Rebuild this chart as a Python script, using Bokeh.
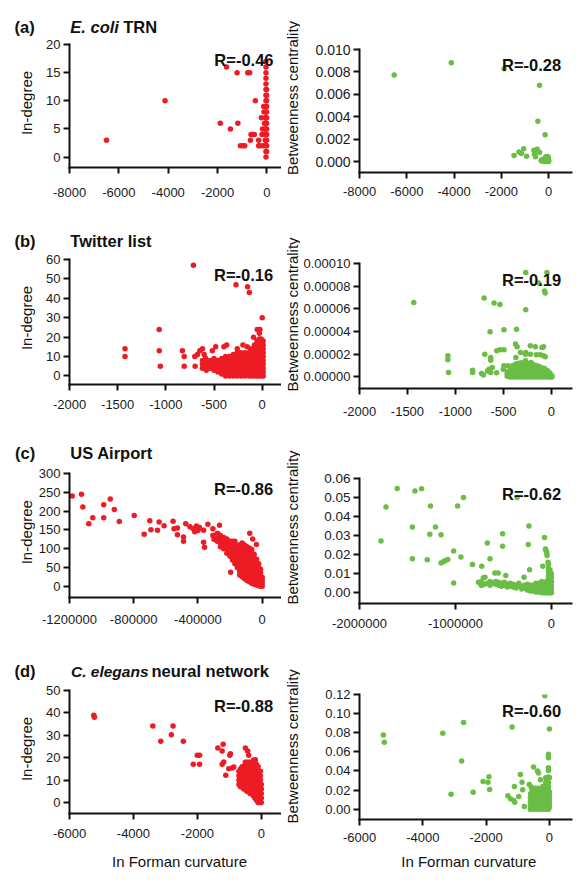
import math
from bokeh.plotting import figure
from bokeh.models import Range1d, FixedTicker, PrintfTickFormatter, Label
from bokeh.layouts import column, row
from bokeh.embed import file_html
from bokeh.resources import INLINE

RED = "#ED1C24"
GREEN = "#6ABD45"
FONT = "Liberation Sans"
INK = "#111111"

# ---------------- (a) E. coli TRN ----------------
ecoli_in_x = [-6500, -4130, -1890, -1640, -1480, -1210, -1180, -1076, -968, -901, -780, -700,
              -470, -672, -645, -565, -511, -336, -336, -229, -134, -180, -120, -100,
              -90, -70, -60, -150, -200, -260, -80]
ecoli_in_y = [3, 10, 6, 16, 5, 15, 6, 2, 2, 2, 15, 15,
              10, 3, 4, 4, 4, 3, 2, 7, 9, 5, 8, 6,
              4, 3, 7, 2, 4, 2, 5]
ecoli_in_col_x = [-40, -15]
ecoli_in_col_y = [[0, 1, 2, 3, 4, 5, 6, 7, 8, 9, 10, 11, 12, 13, 14, 15, 16, 17],
                  [1, 2, 3, 4, 5, 6, 7, 8, 9, 10, 11, 12]]

ecoli_bc_x = [-6533, -4118, -1885, -391, -460, -154, -1466, -1256, -1159, -1061, -935, -628,
              -600, -558, -489, -390, -321, -237, -181, -112, -42, 0, -300, -250, -200, -150,
              -120, -90, -70, -50, -30, -15, -60, -100, -20, -5]
ecoli_bc_y = [0.00772, 0.00881, 0.00828, 0.0068, 0.00359, 0.0024, 0.00053, 0.00086, 0.00071,
              0.00113, 0.00047, 0.0010, 0.00065, 0.00042, 0.0011, 0.00083, 0.00012, 0.00018,
              0.0, 0.00042, 0.00027, 0.0, 0.00005, 0.0001, 0.0002, 0.0003, 0.0001, 0.0004,
              0.0002, 0.0, 0.0003, 0.0001, 0.00045, 0.00025, 0.0004, 0.00015]

# ---------------- (b) Twitter list ----------------
twitter_in_x = [-1424, -1424, -1069, -1069, -1058, -828, -810, -810, -714, -700, -696, -672,
                -648, -620, -603, -587, -518, -483, -398, -369, -259, -272, -152, -134, 0,
                -52, -24, -200, -156, -122, -104, -90, -30]
twitter_in_y = [14, 10, 24, 13, 5, 13, 10, 5, 57, 10, 5, 11,
                13, 14, 11, 9, 13, 15, 15, 16, 14, 47, 46, 43, 30,
                24, 24, 16, 15, 13, 10, 20, 22]
twitter_in_col_x = [-620, -580, -540, -500, -460, -420, -380, -340, -300, -260, -220, -180,
                    -140, -110, -80, -55, -30, -10, 10]
twitter_in_col_y = [[4, 6, 8], [3, 5, 7], [4, 6, 8], [3, 5, 7, 9], [2, 4, 6, 8],
                    [1, 3, 5, 7, 9], [0, 2, 4, 6, 8, 10], [0, 2, 4, 6, 8, 10],
                    [0, 2, 4, 6, 8, 10, 11], [0, 2, 4, 6, 8, 10, 12], [0, 2, 4, 6, 8, 10, 12],
                    [0, 2, 4, 6, 8, 10, 12], [0, 2, 4, 6, 8, 10, 12],
                    [0, 2, 4, 6, 8, 10, 12, 14], [0, 2, 4, 6, 8, 10, 12, 14, 16],
                    [0, 2, 4, 6, 8, 10, 12, 14, 16, 18],
                    [0, 2, 4, 6, 8, 10, 12, 14, 16, 18, 19],
                    [0, 2, 4, 6, 8, 10, 12, 14, 16, 18, 19],
                    [0, 2, 4, 6, 8, 10, 12, 14, 16, 18]]

twitter_bc_x = [-1434, -1079, -1079, -1072, -821, -821, -728, -708, -701, -694, -666, -649,
                -632, -615, -639, -632, -632, -597, -570, -536, -570, -536, -494, -494, -494,
                -501, -374, -357, -363, -322, -271, -370, -267, -267, -46, -132, -64, -71,
                -219, -167, -98, -81, -267, -219, -157, -115, -81, -64, -452, -425, -322,
                -270, -212]
twitter_bc_y = [65.7e-6, 18.6e-6, 15.1e-6, 3.8e-6, 5.9e-6, 3.8e-6, 3.0e-6, 1.8e-6, 69.5e-6,
                20.1e-6, 5.3e-6, 6.8e-6, 3.8e-6, 8.3e-6, 39.9e-6, 17.2e-6, 14.8e-6, 65.1e-6,
                3.6e-6, 63.9e-6, 23.1e-6, 24.0e-6, 41.7e-6, 24.0e-6, 9.8e-6, 6.8e-6, 29.0e-6,
                26.6e-6, 42.0e-6, 21.6e-6, 20.1e-6, 17.2e-6, 59.2e-6, 92.0e-6, 92.0e-6,
                82.8e-6, 74.0e-6, 75.7e-6, 27.5e-6, 26.6e-6, 26.0e-6, 26.5e-6, 21.6e-6,
                20.1e-6, 19.5e-6, 19.5e-6, 18.6e-6, 17.7e-6, 9.8e-6, 5.3e-6, 8.9e-6, 14.2e-6,
                12.7e-6]
twitter_bc_col_x = [-460, -430, -400, -370, -340, -310, -280, -250, -220, -190, -160, -130,
                    -100, -70, -40, -15, 5]
twitter_bc_col_y = [[0.5e-6, 2.5e-6, 4.5e-6],
                    [0.0, 2e-6, 4e-6, 6e-6],
                    [0.0, 2e-6, 4e-6, 6e-6, 8e-6, 10e-6],
                    [0.0, 2e-6, 4e-6, 6e-6, 8e-6, 10e-6, 11.5e-6],
                    [0.0, 2e-6, 4e-6, 6e-6, 8e-6, 10e-6, 12e-6],
                    [0.0, 2e-6, 4e-6, 6e-6, 8e-6, 10e-6, 12.5e-6],
                    [0.0, 2e-6, 4e-6, 6e-6, 8e-6, 10e-6, 12e-6],
                    [0.0, 2e-6, 4e-6, 6e-6, 8e-6, 10e-6, 12e-6],
                    [0.0, 2e-6, 4e-6, 6e-6, 8e-6, 10e-6, 11.5e-6],
                    [0.0, 2e-6, 4e-6, 6e-6, 8e-6, 10e-6, 11e-6],
                    [0.0, 2e-6, 4e-6, 6e-6, 8e-6, 10e-6],
                    [0.0, 2e-6, 4e-6, 6e-6, 8e-6, 9.5e-6],
                    [0.0, 2e-6, 4e-6, 6e-6, 8e-6],
                    [0.0, 2e-6, 4e-6, 6e-6, 7.5e-6],
                    [0.0, 2e-6, 4e-6, 5.5e-6],
                    [0.0, 2e-6, 3.5e-6],
                    [0.0, 1e-6]]

# ---------------- (c) US Airport ----------------
airport_in_x = [-1183000, -1125600, -1117000, -1080000, -1055000, -987000, -987000, -946000,
                -921000, -890000, -797000, -735000, -700000, -693000, -652000, -642000,
                -611000, -555000, -549000, -528000, -528000, -490000, -490000, -476000,
                -450000, -430000, -420000, -410000, -400000, -390000, -365000, -338000,
                -365000, -359000, -307000, -307000, -276000, -266000, -197000, -77500,
                -59000, -36000]
airport_in_y = [240, 245, 211, 166, 182, 217, 182, 232, 204, 172, 188, 138, 174, 150, 149, 171,
                161, 173, 153, 155, 137, 120, 131, 166, 158, 153, 145, 160, 148, 156, 149, 165,
                117, 104, 153, 135, 140, 162, 37, 141, 126, 111]
airport_in_col_x = [-300000, -280000, -260000, -240000, -220000, -200000, -185000, -170000,
                    -155000, -140000, -125000, -110000, -95000, -80000, -65000, -50000,
                    -35000, -22000, -10000, 0]
airport_in_col_y = [[125, 135], [120, 132, 140], [105, 115, 125, 135], [100, 110, 120, 130],
                    [88, 98, 108, 118, 126], [80, 90, 100, 110, 120],
                    [70, 80, 90, 100, 110, 120], [60, 70, 80, 90, 100, 110, 120],
                    [50, 60, 70, 80, 90, 100, 110], [30, 40, 50, 60, 70, 80, 90, 100, 110],
                    [25, 35, 45, 55, 65, 75, 85, 95, 105, 115],
                    [20, 30, 40, 50, 60, 70, 80, 90, 100, 110],
                    [15, 25, 35, 45, 55, 65, 75, 85, 95, 105],
                    [12, 22, 32, 42, 52, 62, 72, 82, 92, 102],
                    [8, 18, 28, 38, 48, 58, 68, 78, 88, 98],
                    [5, 15, 25, 35, 45, 55, 65, 75, 85],
                    [3, 12, 22, 32, 42, 52, 62, 72],
                    [1, 10, 20, 30, 40, 50, 60],
                    [0, 8, 16, 25, 35, 45],
                    [0, 8, 16, 24]]

airport_bc_x = [-1776000, -1724000, -1607000, -1449000, -1449000, -1422000, -1353000, -1294000,
                -1267000, -1260000, -1208000, -1150000, -1150000, -1122000, -1105000, -1080000,
                -1019000, -1019000, -977000, -943000, -916000, -823000, -760000, -726000,
                -726000, -709000, -692000, -668000, -640000, -589000, -554000, -509000,
                -509000, -475000, -358000, -234000, -241000, -227000, -285000, -72000,
                -62000, -55000, -48000, -45000, -89500, -35000, -30000]
airport_bc_y = [0.0272, 0.0451, 0.0547, 0.0346, 0.0179, 0.0535, 0.0546, 0.0174, 0.0307, 0.0456,
                0.0346, 0.0305, 0.0156, 0.0165, 0.0170, 0.0175, 0.0219, 0.0051, 0.0456, 0.0188,
                0.0500, 0.0149, 0.0056, 0.0139, 0.0040, 0.0079, 0.0082, 0.0261, 0.0179, 0.0104,
                0.0104, 0.0310, 0.0244, 0.0091, 0.0500, 0.0351, 0.0253, 0.0121, 0.0082, 0.0290,
                0.0230, 0.0220, 0.0210, 0.0196, 0.0140, 0.0160, 0.0150]
airport_bc_col_x = [-730000, -700000, -670000, -640000, -610000, -580000, -550000, -520000,
                    -490000, -460000, -430000, -400000, -370000, -340000, -310000, -280000,
                    -250000, -220000, -190000, -160000, -130000, -100000, -75000, -50000,
                    -30000, -15000, 0]
airport_bc_col_y = [[0.006, 0.004], [0.0045], [0.005], [0.006, 0.004], [0.005],
                    [0.0045, 0.006], [0.004, 0.0055], [0.005, 0.0035], [0.004, 0.0055],
                    [0.003, 0.0045], [0.0035, 0.005], [0.003, 0.0045], [0.0025, 0.004],
                    [0.0035, 0.005], [0.002, 0.0035], [0.0025, 0.004],
                    [0.0015, 0.003, 0.0045], [0.001, 0.0025, 0.004], [0.001, 0.0025, 0.004],
                    [0.0005, 0.002, 0.0035, 0.005], [0.0005, 0.002, 0.0035, 0.005],
                    [0.0, 0.0015, 0.003, 0.0045, 0.006], [0.0, 0.0015, 0.003, 0.0045],
                    [0.0, 0.0015, 0.003, 0.0045, 0.006],
                    [0.0, 0.0015, 0.003, 0.0045, 0.006, 0.0075, 0.009, 0.011, 0.013],
                    [0.0, 0.0015, 0.003, 0.0045, 0.006, 0.0075, 0.009, 0.0105, 0.012],
                    [0.0, 0.002, 0.004, 0.006, 0.008, 0.010]]

# ---------------- (d) C. elegans neural network ----------------
celegans_in_x = [-5242, -5221, -3394, -3145, -2813, -2761, -2439, -2128, -2003, -1931, -1931,
                 -1360, -1225, -1194, -1225, -1173, -1111, -986, -965, -1017, -913, -862, -498,
                 -426, -394, -550, -675, -498, -446, -156, -187, -240]
celegans_in_y = [38.9, 38.1, 34.1, 27.3, 30.3, 34.1, 27.3, 17.1, 21.1, 21.1, 17.1,
                 24.3, 23.0, 26.0, 17.1, 18.1, 12.2, 21.1, 21.8, 15.1, 15.4, 15.9, 24.3,
                 23.0, 21.1, 16.2, 8.5, 7.0, 6.2, 16.6, 19.1, 19.0]
celegans_in_col_x = [-700, -650, -600, -550, -500, -450, -400, -350, -300, -250, -200, -150,
                     -100, -60, -30, 0]
celegans_in_col_y = [[8, 10, 12, 14], [7, 9, 11, 13, 15], [7, 9, 11, 13, 15, 16],
                     [6, 8, 10, 12, 14, 16], [6, 8, 10, 12, 14, 16, 18],
                     [5, 7, 9, 11, 13, 15, 17, 18], [5, 7, 9, 11, 13, 15, 17, 18],
                     [4, 6, 8, 10, 12, 14, 16, 18], [4, 6, 8, 10, 12, 14, 16, 18],
                     [3, 5, 7, 9, 11, 13, 15, 17, 18], [2, 4, 6, 8, 10, 12, 14, 16, 18],
                     [1, 3, 5, 7, 9, 11, 13, 15, 17], [0, 2, 4, 6, 8, 10, 12, 14, 16],
                     [0, 2, 4, 6, 8, 10, 12, 14], [0, 2, 4, 6, 8, 10, 12, 14], [0, 2, 4, 6, 8]]

celegans_bc_x = [-5246, -5215, -3369, -3108, -2774, -2712, -2409, -2096, -1940, -1909, -1888,
                 -1314, -1231, -1126, -1095, -1179, -1106, -970, -918, -866, -845, -793, -636,
                 -574, -595, -501, -375, -344, -282, -146, 0, -31, -31, -31, -31, -31, 0, -115,
                 -115, -73]
celegans_bc_y = [0.0777, 0.0700, 0.0794, 0.0157, 0.0504, 0.0906, 0.0178, 0.0290, 0.0283,
                 0.0339, 0.0206, 0.0140, 0.0108, 0.0090, 0.0073, 0.0861, 0.0238, 0.0133,
                 0.0364, 0.0283, 0.0203, 0.0028, 0.0259, 0.0231, 0.0161, 0.0441, 0.0399,
                 0.0378, 0.0308, 0.1186, 0.0840, 0.0574, 0.0539, 0.0434, 0.0406, 0.0336,
                 0.0329, 0.0329, 0.0280, 0.0300]
celegans_bc_col_x = [-600, -550, -500, -450, -400, -350, -300, -250, -200, -150, -100, -60,
                     -30, 0]
celegans_bc_col_y = [[0.0, 0.004, 0.008, 0.012], [0.002, 0.006, 0.010, 0.014, 0.018, 0.022],
                     [0.0, 0.004, 0.008, 0.012, 0.016, 0.020],
                     [0.002, 0.006, 0.010, 0.014, 0.018, 0.022],
                     [0.0, 0.004, 0.008, 0.012, 0.016, 0.020],
                     [0.002, 0.006, 0.010, 0.014, 0.018, 0.022],
                     [0.0, 0.004, 0.008, 0.012, 0.016, 0.020],
                     [0.002, 0.006, 0.010, 0.014, 0.018, 0.022],
                     [0.0, 0.004, 0.008, 0.012, 0.016, 0.020, 0.024],
                     [0.002, 0.006, 0.010, 0.014, 0.018, 0.022],
                     [0.0, 0.004, 0.008, 0.012, 0.016, 0.020],
                     [0.002, 0.006, 0.010, 0.014, 0.018, 0.022],
                     [0.0, 0.004, 0.008, 0.012, 0.016, 0.020, 0.024, 0.028],
                     [0.002, 0.006, 0.010, 0.014, 0.018]]

# ---------------- ticks / texts ----------------
ticks_ecoli_x = [-8000, -6000, -4000, -2000, 0]
ticks_ecoli_in = [0, 5, 10, 15, 20]
ticks_ecoli_bc = [0.0, 0.002, 0.004, 0.006, 0.008, 0.010]
ticks_twitter_x = [-2000, -1500, -1000, -500, 0]
ticks_twitter_in = [0, 10, 20, 30, 40, 50, 60]
ticks_twitter_bc = [0.0, 0.00002, 0.00004, 0.00006, 0.00008, 0.00010]
ticks_airport_in_x = [-1200000, -800000, -400000, 0]
ticks_airport_bc_x = [-2000000, -1000000, 0]
ticks_airport_in = [0, 50, 100, 150, 200, 250, 300]
ticks_airport_bc = [0.0, 0.01, 0.02, 0.03, 0.04, 0.05, 0.06]
ticks_celegans_x = [-6000, -4000, -2000, 0]
ticks_celegans_in = [0, 10, 20, 30, 40, 50]
ticks_celegans_bc = [0.0, 0.02, 0.04, 0.06, 0.08, 0.10, 0.12]

r_values = ["R=-0.46", "R=-0.28", "R=-0.16", "R=-0.19", "R=-0.86", "R=-0.62", "R=-0.88", "R=-0.60"]
y_label_in = "In-degree"
y_label_bc = "Betweenness centrality"
x_label = "In Forman curvature"


def expand(xs, ys, cx, cy):
    ox, oy = list(xs), list(ys)
    for x, yl in zip(cx, cy):
        for y in yl:
            ox.append(x)
            oy.append(y)
    return ox, oy


def lab(x, y, text, size=16.5, style="bold", align="left", baseline="alphabetic", angle=0.0):
    return Label(x=x, y=y, x_units="canvas", y_units="canvas", text=text,
                 text_font=FONT, text_font_size=f"{size}px", text_font_style=style,
                 text_align=align, text_baseline=baseline, angle=angle, text_color=INK)


def blank(W, H):
    p = figure(width=W, height=H, x_range=Range1d(0, 1), y_range=Range1d(0, 1),
               output_backend="svg", toolbar_location=None, x_axis_location=None,
               y_axis_location=None, min_border=0)
    p.grid.visible = False
    p.outline_line_color = None
    return p


def vlabel(W, H, cx, cy, text):
    p = blank(W, H)
    p.add_layout(lab(cx, cy, text, size=15, style="normal", align="center", baseline="middle",
                     angle=math.pi / 2))
    return p


def panel(W, H, borders, xr, yr, xt, yt, xfmt, yfmt, ysize, xstand, ystand, xs, ys, color):
    l, r, t, b = borders
    p = figure(width=W, height=H, x_range=Range1d(*xr), y_range=Range1d(*yr),
               output_backend="svg", toolbar_location=None,
               min_border_left=l, min_border_right=r, min_border_top=t, min_border_bottom=b)
    p.grid.visible = False
    p.outline_line_color = None
    p.background_fill_color = "white"
    p.border_fill_color = "white"
    for ax in (p.xaxis[0], p.yaxis[0]):
        ax.axis_line_width = 2
        ax.axis_line_color = INK
        ax.axis_line_cap = "square"
        ax.major_tick_line_width = 2
        ax.major_tick_line_color = INK
        ax.major_tick_in = 0
        ax.major_tick_out = 6
        ax.minor_tick_line_color = None
        ax.major_label_text_font = FONT
        ax.major_label_text_color = "#1a1a1a"
    p.xaxis[0].ticker = FixedTicker(ticks=xt)
    p.yaxis[0].ticker = FixedTicker(ticks=yt)
    p.xaxis[0].formatter = PrintfTickFormatter(format=xfmt)
    p.yaxis[0].formatter = PrintfTickFormatter(format=yfmt)
    p.xaxis[0].major_label_text_font_size = "13px"
    p.yaxis[0].major_label_text_font_size = f"{ysize}px"
    p.xaxis[0].major_label_standoff = xstand
    p.yaxis[0].major_label_standoff = ystand
    p.scatter(xs, ys, size=5.5, color=color, line_color=None)
    return p


W0, W1, W2, W3 = 35, 246, 19, 280

# ---- column 0: panel letters and In-degree labels ----
s0a = blank(W0, 36)
s0a.add_layout(lab(14, 26, "(a)"))
y0a = vlabel(W0, 186, 26, 66.5, y_label_in)
s0b = blank(W0, 30)
s0b.add_layout(lab(14, 18, "(b)"))
y0b = vlabel(W0, 184, 26, 65.5, y_label_in)
s0c = blank(W0, 30)
s0c.add_layout(lab(14.5, 16.7, "(c)"))
y0c = vlabel(W0, 188, 26, 65.7, y_label_in)
s0d = blank(W0, 30)
s0d.add_layout(lab(14, 16.7, "(d)"))
y0d = vlabel(W0, 188, 26, 64.5, y_label_in)

# ---- column 1: titles and in-degree panels ----
Ta = blank(W1, 36)
Ta.add_layout(lab(34.8, 26, "E. coli", style="bold italic"))
Ta.add_layout(lab(87.7, 26, "TRN"))
x, y = expand(ecoli_in_x, ecoli_in_y, ecoli_in_col_x, ecoli_in_col_y)
aL = panel(W1, 186, (33, 0, 8, 55), (-8000, 589), (-1.85, 20), ticks_ecoli_x, ticks_ecoli_in,
           "%d", "%d", 13, 14, 3, x, y, RED)
aL.add_layout(lab(238, 23.3, r_values[0], align="right"))

Tb = blank(W1, 30)
Tb.add_layout(lab(34.8, 18, "Twitter list"))
x, y = expand(twitter_in_x, twitter_in_y, twitter_in_col_x, twitter_in_col_y)
bL = panel(W1, 184, (33, 0, 7, 52), (-2000, 200), (-4.4, 60), ticks_twitter_x, ticks_twitter_in,
           "%d", "%d", 13, 9, 3, x, y, RED)
bL.add_layout(lab(237.7, 22, r_values[2], align="right"))

Tc = blank(W1, 30)
Tc.add_layout(lab(34.8, 16.7, "US Airport"))
x, y = expand(airport_in_x, airport_in_y, airport_in_col_x, airport_in_col_y)
cL = panel(W1, 188, (33, 0, 7, 57), (-1200000, 120300), (-30, 300), ticks_airport_in_x,
           ticks_airport_in, "%d", "%d", 13, 11, 3, x, y, RED)
cL.add_layout(lab(237.7, 22.3, r_values[4], align="right"))

Td = blank(W1, 30)
Td.add_layout(lab(35.5, 16.7, "C. elegans", size=15.5, style="bold italic"))
Td.add_layout(lab(116, 16.7, "neural network"))
x, y = expand(celegans_in_x, celegans_in_y, celegans_in_col_x, celegans_in_col_y)
dL = panel(W1, 188, (33, 0, 6, 59), (-6000, 632), (-4.9, 50), ticks_celegans_x, ticks_celegans_in,
           "%d", "%d", 13, 9, 3, x, y, RED)
dL.add_layout(lab(237.7, 21, r_values[6], align="right"))
dL.add_layout(lab(144, 176.7, x_label, size=15, style="normal", align="center"), "below")

# ---- column 2: Betweenness centrality labels ----
y2a = vlabel(W2, 222, 10.5, 97.5, y_label_bc)
y2b = vlabel(W2, 214, 10.5, 92, y_label_bc)
y2c = vlabel(W2, 218, 10.5, 91, y_label_bc)
y2d = vlabel(W2, 218, 10.5, 91.8, y_label_bc)

# ---- column 3: betweenness panels ----
aR = panel(W3, 222, (57, 9, 49, 50), (-8000, 963), (-0.00098, 0.010), ticks_ecoli_x, ticks_ecoli_bc,
           "%d", "%.3f", 14, 8, 3, ecoli_bc_x, ecoli_bc_y, GREEN)
aR.add_layout(lab(260.7, 64.3, r_values[1], align="right"))

x, y = expand(twitter_bc_x, twitter_bc_y, twitter_bc_col_x, twitter_bc_col_y)
bR = panel(W3, 214, (57, 9, 41, 48), (-2000, 210), (-1.02e-5, 1e-4), ticks_twitter_x, ticks_twitter_bc,
           "%d", "%.5f", 13, 12, 3, x, y, GREEN)
bR.add_layout(lab(260.7, 57, r_values[3], align="right"))

x, y = expand(airport_bc_x, airport_bc_y, airport_bc_col_x, airport_bc_col_y)
cR = panel(W3, 218, (57, 9, 42, 51), (-2000000, 209600), (-0.0056, 0.06), ticks_airport_bc_x,
           ticks_airport_bc, "%d", "%.2f", 13.5, 9, 3, x, y, GREEN)
cR.add_layout(lab(260.7, 57.3, r_values[5], align="right"))

x, y = expand(celegans_bc_x, celegans_bc_y, celegans_bc_col_x, celegans_bc_col_y)
dR = panel(W3, 218, (57, 9, 40, 53), (-6000, 698), (-0.0108, 0.12), ticks_celegans_x,
           ticks_celegans_bc, "%d", "%.2f", 13, 7, 3, x, y, GREEN)
dR.add_layout(lab(260.7, 56, r_values[7], align="right"))
dR.add_layout(lab(168.3, 206.7, x_label, size=15, style="normal", align="center"), "below")

layout = row(column(s0a, y0a, s0b, y0b, s0c, y0c, s0d, y0d),
             column(Ta, aL, Tb, bL, Tc, cL, Td, dL),
             column(y2a, y2b, y2c, y2d),
             column(aR, bR, cR, dR))
open("out.html", "w").write(file_html(layout, INLINE))
